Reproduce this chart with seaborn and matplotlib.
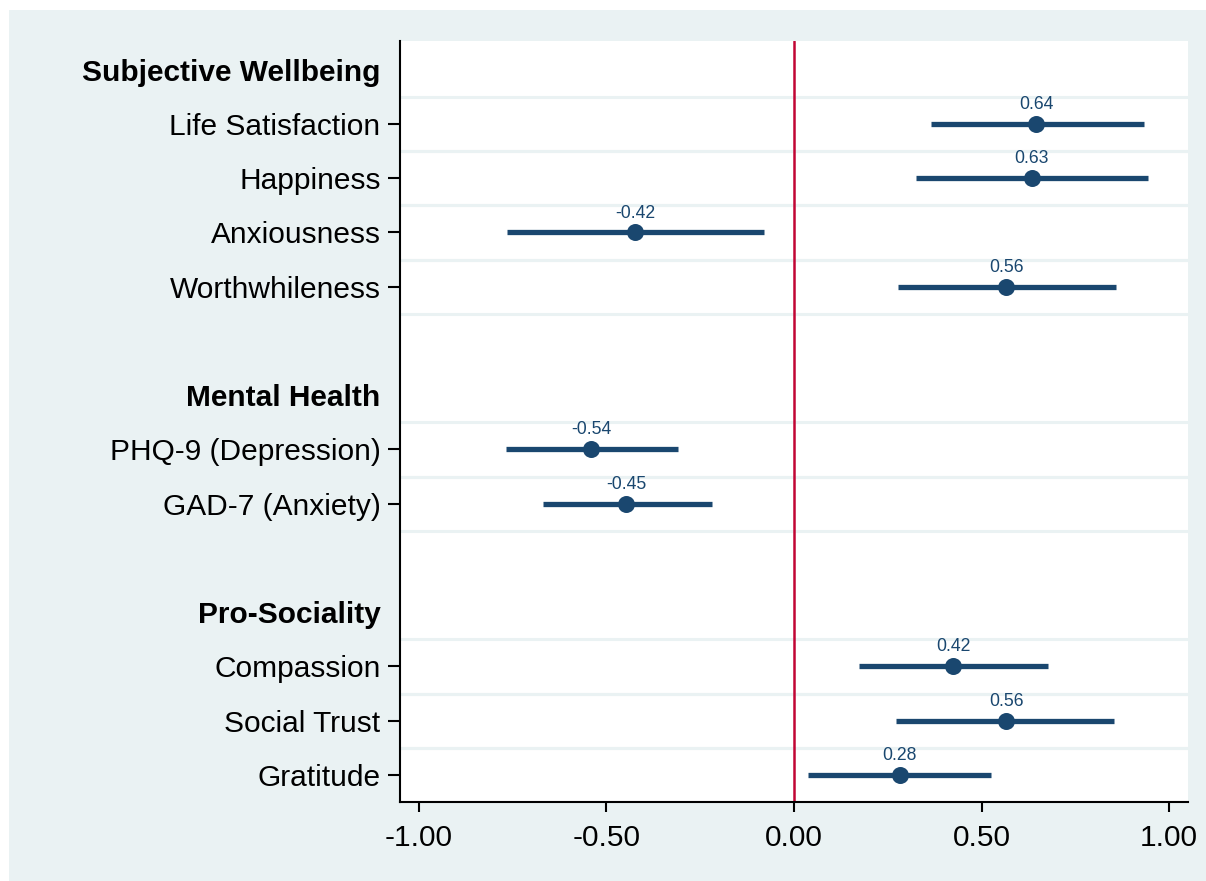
import numpy as np
import pandas as pd
import matplotlib
matplotlib.use("Agg")
import matplotlib.pyplot as plt
import seaborn as sns
from matplotlib.patches import Rectangle

# data
groups = ["Subjective Wellbeing", "Mental Health", "Pro-Sociality"]
items = [
    ["Life Satisfaction", "Happiness", "Anxiousness", "Worthwhileness"],
    ["PHQ-9 (Depression)", "GAD-7 (Anxiety)"],
    ["Compassion", "Social Trust", "Gratitude"],
]
estimates = [0.645, 0.633, -0.423, 0.565, -0.540, -0.447, 0.424, 0.565, 0.282]
ci_low = [0.366, 0.325, -0.764, 0.278, -0.767, -0.670, 0.174, 0.272, 0.037]
ci_high = [0.932, 0.944, -0.080, 0.857, -0.310, -0.219, 0.678, 0.854, 0.526]
value_labels = ["0.64", "0.63", "-0.42", "0.56", "-0.54", "-0.45", "0.42", "0.56", "0.28"]
x_ticks = [-1.0, -0.5, 0.0, 0.5, 1.0]

navy = "#1a476f"
bg = "#eaf2f3"

# row layout: header, items, blank spacer between groups
row_labels = []
row_kind = []
for g, its in zip(groups, items):
    if row_labels:
        row_labels.append("")
        row_kind.append("blank")
    row_labels.append(g)
    row_kind.append("header")
    for it in its:
        row_labels.append(it)
        row_kind.append("item")
item_pos = [i for i, k in enumerate(row_kind) if k == "item"]
header_pos = [i for i, k in enumerate(row_kind) if k == "header"]

df = pd.DataFrame({
    "label": [it for its in items for it in its],
    "pos": item_pos,
    "est": estimates,
    "lo": ci_low,
    "hi": ci_high,
    "txt": value_labels,
})

sns.set_style("white")
plt.rcParams["font.family"] = ["Liberation Sans", "DejaVu Sans"]

W, H = 1206, 881
fig = plt.figure(figsize=(W / 100, H / 100), dpi=100, facecolor="white")
fig.patches.append(Rectangle((9 / W, 0), 1, (H - 10) / H, transform=fig.transFigure,
                             facecolor=bg, edgecolor="none", zorder=-10))
ax = fig.add_axes([400 / W, (H - 802) / H, (1188 - 400) / W, (802 - 41) / H])
ax.set_facecolor("white")

# gridlines around each coefficient row
for p in item_pos:
    for yy in (p - 0.5, p + 0.5):
        ax.axhline(yy, color=bg, lw=2.2, zorder=0)

ax.axvline(0, color="#c10534", lw=1.8, zorder=1)
ax.hlines(df["pos"], df["lo"], df["hi"], color=navy, lw=3.8, zorder=2)
sns.scatterplot(data=df, x="est", y="pos", ax=ax, color=navy, s=150,
                edgecolor=navy, linewidth=0, zorder=3, legend=False)
for _, r in df.iterrows():
    ax.annotate(r["txt"], (r["est"], r["pos"]), xytext=(0, 14), textcoords="offset points",
                ha="center", va="center", fontsize=12.7, color=navy)

ax.set_xlim(-1.05, 1.05)
ax.set_ylim(len(row_labels) - 0.5, -0.53)
ax.set_xticks(x_ticks)
ax.set_xticklabels(["%.2f" % v for v in x_ticks], fontsize=21.5)
ax.set_yticks(item_pos)
ax.set_yticklabels(df["label"], fontsize=21.5)

# group headers in bold, no tick mark
for p in header_pos:
    ax.text(-0.0245, p, row_labels[p], transform=ax.get_yaxis_transform(),
            ha="right", va="center_baseline", fontsize=21.5, fontweight="bold", color="black")

ax.tick_params(axis="y", length=9, width=1.5, pad=5, color="black", labelcolor="black", left=True)
ax.tick_params(axis="x", length=7.5, width=1.5, pad=8.5, color="black", labelcolor="black", bottom=True)
ax.set_xlabel("")
ax.set_ylabel("")
for side in ["top", "right"]:
    ax.spines[side].set_visible(False)
for side in ["left", "bottom"]:
    ax.spines[side].set_color("black")
    ax.spines[side].set_linewidth(1.5)

fig.savefig("out.png", dpi=100, facecolor="white")
